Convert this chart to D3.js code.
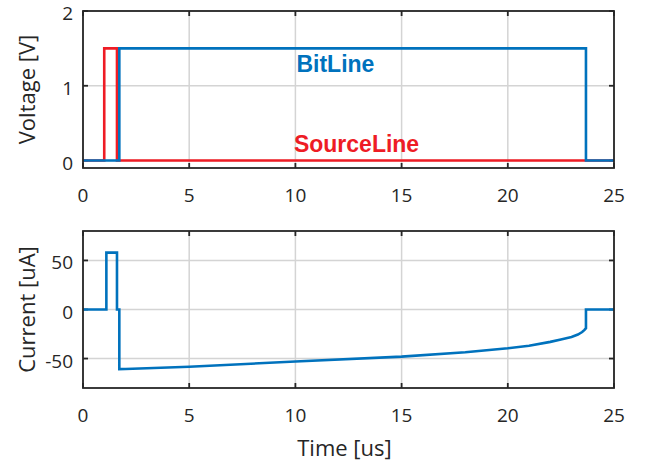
<!DOCTYPE html>
<html>
<head>
<meta charset="utf-8">
<script src="https://cdn.jsdelivr.net/npm/d3@7"></script>
<style>
  body { margin: 0; background: #fff; }
  text { font-family: "Open Sans", sans-serif; fill: #262626; }
</style>
</head>
<body>
<svg id="chart" width="649" height="463"></svg>
<script>
// time axis shared by both panels
const timeTicks = [0, 5, 10, 15, 20, 25];

// top panel: voltages
const voltTicks = [0, 1, 2];
const bitTime = [0, 1.71, 1.71, 23.68, 23.68, 25];
const bitVolt = [0, 0, 1.5, 1.5, 0, 0];
const srcTime = [0, 1.0, 1.0, 1.6, 1.6, 25];
const srcVolt = [0, 0, 1.5, 1.5, 0, 0];

// bottom panel: current
const curTicks = [-50, 0, 50];
const curTime = [0, 1.1, 1.1, 1.6, 1.6, 1.71, 1.71, 2, 5, 10, 15, 18, 20, 21, 22, 22.5, 23, 23.3, 23.5, 23.6, 23.68, 23.68, 25];
const curVal = [0, 0, 58, 58, 0, 0, -60.8, -60.6, -58.4, -53, -48, -43.5, -39.5, -37, -33, -30.5, -28, -25.5, -23, -21, -19, 0, 0];

const svg = d3.select('#chart');
const left = 83, right = 614;
const gridColor = '#d4d4d4', frameColor = '#262626';
const blue = '#0072bd', red = '#ee1c25';

const x = d3.scaleLinear().domain([0, 25]).range([left, right]);

function panel(top, bottom, yDomain, yTicks, label) {
  const y = d3.scaleLinear().domain(yDomain).range([bottom, top]);
  const g = svg.append('g');

  // grid
  g.selectAll('.vgrid').data(timeTicks).enter().append('line')
    .attr('x1', d => x(d)).attr('x2', d => x(d))
    .attr('y1', top).attr('y2', bottom)
    .style('stroke', gridColor).style('stroke-width', 1.5);
  g.selectAll('.hgrid').data(yTicks).enter().append('line')
    .attr('x1', left).attr('x2', right)
    .attr('y1', d => y(d)).attr('y2', d => y(d))
    .style('stroke', gridColor).style('stroke-width', 1.5);

  // inward ticks on all four sides
  const tl = 5;
  timeTicks.forEach(t => {
    g.append('line').attr('x1', x(t)).attr('x2', x(t)).attr('y1', bottom).attr('y2', bottom - tl)
      .style('stroke', frameColor).style('stroke-width', 1.8);
    g.append('line').attr('x1', x(t)).attr('x2', x(t)).attr('y1', top).attr('y2', top + tl)
      .style('stroke', frameColor).style('stroke-width', 1.8);
  });
  yTicks.forEach(v => {
    g.append('line').attr('x1', left).attr('x2', left + tl).attr('y1', y(v)).attr('y2', y(v))
      .style('stroke', frameColor).style('stroke-width', 1.8);
    g.append('line').attr('x1', right).attr('x2', right - tl).attr('y1', y(v)).attr('y2', y(v))
      .style('stroke', frameColor).style('stroke-width', 1.8);
  });

  // tick labels
  g.selectAll('.xl').data(timeTicks).enter().append('text')
    .attr('x', d => x(d)).attr('y', bottom + 34)
    .attr('text-anchor', 'middle').style('font-size', '19px')
    .text(d => d);
  g.selectAll('.yl').data(yTicks).enter().append('text')
    .attr('x', left - 10).attr('y', d => y(d) + 9)
    .attr('text-anchor', 'end').style('font-size', '19px')
    .text(d => d);

  // y label
  g.append('text')
    .attr('transform', `translate(35, ${(top + bottom) / 2}) rotate(-90)`)
    .attr('text-anchor', 'middle').style('font-size', '22px')
    .text(label);

  return { g, y, top, bottom };
}

function frame(p) {
  p.g.append('rect')
    .attr('x', left).attr('y', p.top)
    .attr('width', right - left).attr('height', p.bottom - p.top)
    .style('fill', 'none').style('stroke', frameColor).style('stroke-width', 1.8);
}

// top panel
const p1 = panel(11, 168, [-0.1, 2], voltTicks, 'Voltage [V]');
const line1 = d3.line().x(d => x(d[0])).y(d => p1.y(d[1]));
p1.g.append('path').datum(d3.zip(srcTime, srcVolt)).attr('d', line1)
  .style('fill', 'none').style('stroke', red).style('stroke-width', 2.6);
p1.g.append('path').datum(d3.zip(bitTime, bitVolt)).attr('d', line1)
  .style('fill', 'none').style('stroke', blue).style('stroke-width', 2.6);
frame(p1);

p1.g.append('text').attr('x', x(10.05)).attr('y', p1.y(1.19))
  .style('font-family', '"Liberation Sans", Arial, sans-serif')
  .style('font-weight', 'bold').style('font-size', '23px').style('fill', blue)
  .text('BitLine');
p1.g.append('text').attr('x', x(9.93)).attr('y', p1.y(0.116))
  .style('font-family', '"Liberation Sans", Arial, sans-serif')
  .style('font-weight', 'bold').style('font-size', '23px').style('fill', red)
  .text('SourceLine');

// bottom panel
const p2 = panel(231, 388, [-80, 80], curTicks, 'Current [uA]');
const line2 = d3.line().x(d => x(d[0])).y(d => p2.y(d[1]));
p2.g.append('path').datum(d3.zip(curTime, curVal)).attr('d', line2)
  .style('fill', 'none').style('stroke', blue).style('stroke-width', 2.6);
frame(p2);

// x label
svg.append('text').attr('x', (left + right) / 2 - 4).attr('y', 456)
  .attr('text-anchor', 'middle').style('font-size', '22px')
  .text('Time [us]');
</script>
</body>
</html>
